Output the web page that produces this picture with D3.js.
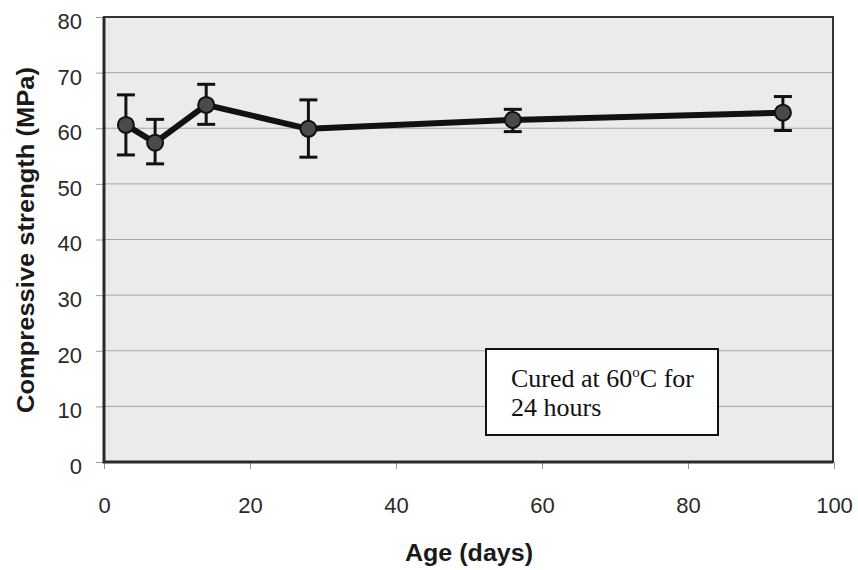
<!DOCTYPE html>
<html>
<head>
<meta charset="utf-8">
<script src="https://cdn.jsdelivr.net/npm/d3@7"></script>
<style>
  html, body { margin: 0; padding: 0; background: #fff; }
  svg { display: block; }
</style>
</head>
<body>
<svg id="chart" width="858" height="570"></svg>
<script>
// Compressive strength vs. age, cured at 60 °C for 24 hours
const ageDays = [3, 7, 14, 28, 56, 93];
const strengthMean = [60.6, 57.4, 64.2, 59.9, 61.5, 62.8];
const strengthHigh = [66.0, 61.6, 67.9, 65.1, 63.4, 65.7];
const strengthLow = [55.2, 53.6, 60.7, 54.8, 59.4, 59.6];
const xTicks = [0, 20, 40, 60, 80, 100];
const yTicks = [0, 10, 20, 30, 40, 50, 60, 70, 80];

const svg = d3.select("#chart");
const plot = { left: 104, right: 833, top: 17, bottom: 462 };

const x = d3.scaleLinear().domain([0, 100]).range([plot.left, 834]);
const y = d3.scaleLinear().domain([0, 80]).range([plot.bottom, plot.top]);

// plot area background
svg.append("rect")
  .attr("x", plot.left).attr("y", plot.top)
  .attr("width", plot.right - plot.left).attr("height", plot.bottom - plot.top)
  .attr("fill", "#ebebeb");

// horizontal gridlines
svg.append("g")
  .selectAll("line")
  .data(yTicks.filter(d => d > 0 && d < 80))
  .join("line")
  .attr("x1", plot.left).attr("x2", plot.right)
  .attr("y1", d => y(d)).attr("y2", d => y(d))
  .attr("stroke", "#a6a6a6").attr("stroke-width", 1);

// axes
const fontSans = "'Liberation Sans', Arial, sans-serif";
const yAxis = svg.append("g")
  .attr("transform", `translate(${plot.left},0)`)
  .call(d3.axisLeft(y).tickValues(yTicks).tickSize(8).tickPadding(14).tickFormat(d3.format("d")));
const xAxis = svg.append("g")
  .attr("transform", `translate(0,${plot.bottom})`)
  .call(d3.axisBottom(x).tickValues(xTicks).tickSize(7).tickPadding(28).tickFormat(d3.format("d")));

[yAxis, xAxis].forEach(g => {
  g.select(".domain").remove();
  g.selectAll(".tick line").attr("stroke", "#999");
  g.selectAll(".tick text")
    .attr("fill", "#2a2a2a")
    .style("font-family", fontSans)
    .style("font-size", "22px");
});
yAxis.selectAll(".tick text").attr("dy", "0.52em");

// plot border, with a heavier left and bottom edge
svg.append("rect")
  .attr("x", plot.left).attr("y", plot.top)
  .attr("width", plot.right - plot.left).attr("height", plot.bottom - plot.top)
  .attr("fill", "none").attr("stroke", "#333").attr("stroke-width", 2);
svg.append("path")
  .attr("d", `M${plot.left},${plot.top}V${plot.bottom}H${plot.right}`)
  .attr("fill", "none").attr("stroke", "#2a2a2a").attr("stroke-width", 3);

// series
const pts = ageDays.map((a, i) => ({ a, m: strengthMean[i], hi: strengthHigh[i], lo: strengthLow[i] }));

svg.append("path")
  .datum(pts)
  .attr("fill", "none")
  .attr("stroke", "#111")
  .attr("stroke-width", 6)
  .attr("stroke-linejoin", "round")
  .attr("d", d3.line().x(d => x(d.a)).y(d => y(d.m)));

// error bars
const cap = 9;
const eb = svg.append("g").attr("stroke", "#111").attr("stroke-width", 3);
eb.selectAll("line.v").data(pts).join("line").attr("class", "v")
  .attr("x1", d => x(d.a)).attr("x2", d => x(d.a))
  .attr("y1", d => y(d.hi)).attr("y2", d => y(d.lo));
eb.selectAll("line.hi").data(pts).join("line").attr("class", "hi")
  .attr("x1", d => x(d.a) - cap).attr("x2", d => x(d.a) + cap)
  .attr("y1", d => y(d.hi)).attr("y2", d => y(d.hi));
eb.selectAll("line.lo").data(pts).join("line").attr("class", "lo")
  .attr("x1", d => x(d.a) - cap).attr("x2", d => x(d.a) + cap)
  .attr("y1", d => y(d.lo)).attr("y2", d => y(d.lo));

// markers
svg.append("g").selectAll("circle").data(pts).join("circle")
  .attr("cx", d => x(d.a)).attr("cy", d => y(d.m))
  .attr("r", 8)
  .attr("fill", "#4a4a4a")
  .attr("stroke", "#111").attr("stroke-width", 2);

// axis titles
svg.append("text")
  .attr("transform", `translate(34,240) rotate(-90)`)
  .attr("text-anchor", "middle")
  .attr("textLength", 346).attr("lengthAdjust", "spacingAndGlyphs")
  .style("font-family", fontSans).style("font-weight", "bold").style("font-size", "23px")
  .attr("fill", "#1a1a1a")
  .text("Compressive strength (MPa)");

svg.append("text")
  .attr("x", 469).attr("y", 561)
  .attr("text-anchor", "middle")
  .attr("textLength", 128).attr("lengthAdjust", "spacingAndGlyphs")
  .style("font-family", fontSans).style("font-weight", "bold").style("font-size", "23px")
  .attr("fill", "#1a1a1a")
  .text("Age (days)");

// annotation box
const note = svg.append("g");
note.append("rect")
  .attr("x", 486).attr("y", 349).attr("width", 232).attr("height", 86)
  .attr("fill", "#fff").attr("stroke", "#111").attr("stroke-width", 2);
const fontSerif = "'Liberation Serif', 'Times New Roman', serif";
const t1 = note.append("text")
  .attr("x", 511).attr("y", 387)
  .style("font-family", fontSerif).style("font-size", "26px").attr("fill", "#111");
t1.append("tspan").text("Cured at 60");
t1.append("tspan").attr("dy", -10).style("font-size", "15px").text("o");
t1.append("tspan").attr("dy", 10).text("C for");
note.append("text")
  .attr("x", 511).attr("y", 416)
  .style("font-family", fontSerif).style("font-size", "26px").attr("fill", "#111")
  .text("24 hours");
</script>
</body>
</html>
